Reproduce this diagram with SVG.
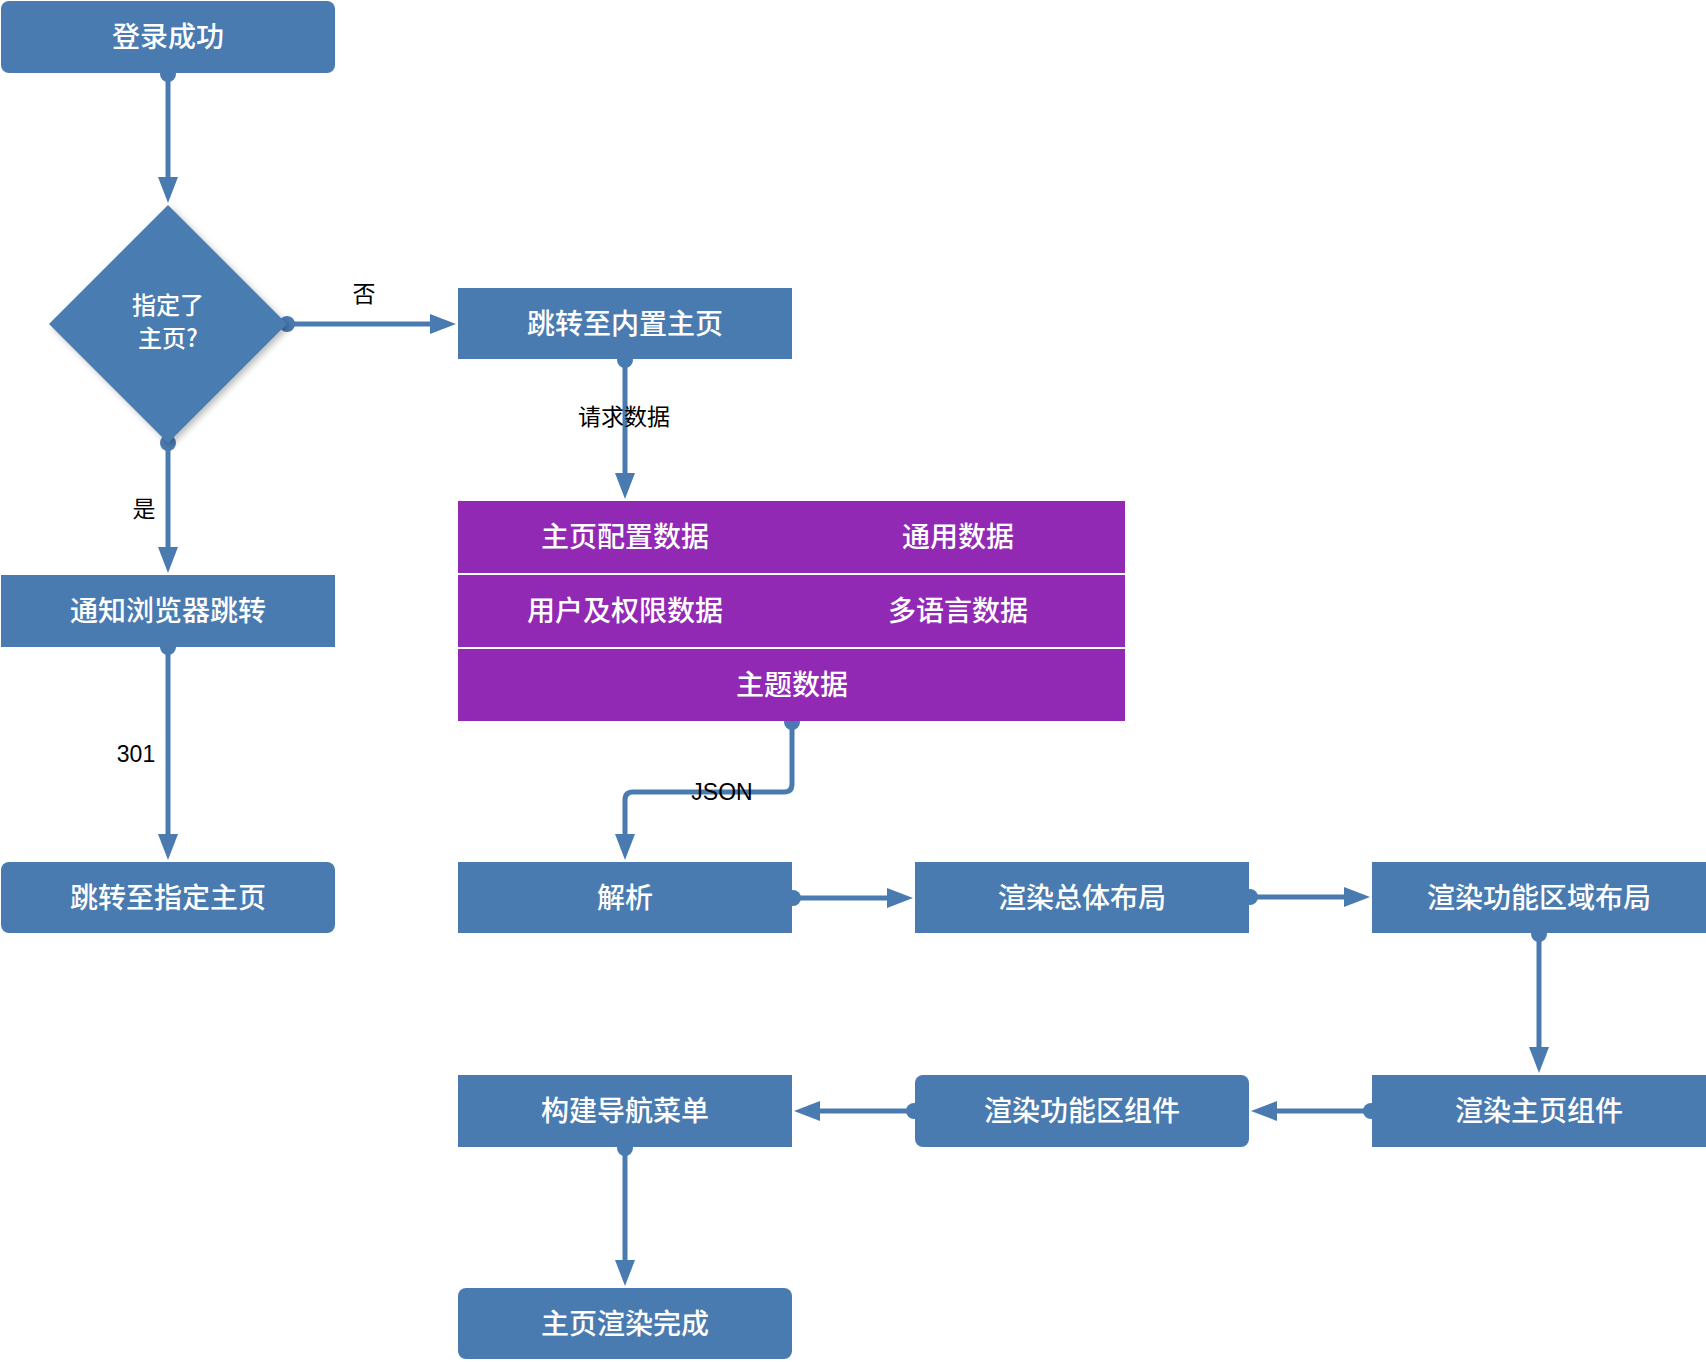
<svg xmlns="http://www.w3.org/2000/svg" width="1706" height="1362" viewBox="0 0 1706 1362">
<style>
.box{fill:#4a7bb0}
.data{fill:#9229b5}
.t{font-family:"Noto Sans CJK SC","Liberation Sans",sans-serif;font-size:28px;font-weight:500;fill:#ffffff;text-anchor:middle;dominant-baseline:central}
.dt{font-family:"Noto Sans CJK SC","Liberation Sans",sans-serif;font-size:24px;font-weight:500;fill:#ffffff;text-anchor:middle;dominant-baseline:central}
.lbl{font-family:"Liberation Sans","Noto Sans CJK SC",sans-serif;font-size:23px;fill:#000000;text-anchor:middle;dominant-baseline:central}
.c{fill:none;stroke:#4a7bb0;stroke-width:5;marker-end:url(#arr)}
.dot{fill:#4a7bb0}
</style>
<defs>
<marker id="arr" markerUnits="userSpaceOnUse" markerWidth="28" markerHeight="22" refX="0" refY="10" orient="auto">
<path d="M0,0 L26,10 L0,20 z" fill="#4a7bb0"/>
</marker>
<filter id="sh" x="-20%" y="-20%" width="140%" height="140%">
<feDropShadow dx="3" dy="3" stdDeviation="3" flood-color="#000000" flood-opacity="0.25"/>
</filter>
</defs>

<g id="connectors">
<path class="c" d="M168,73 V177"/>
<path class="c" d="M287,324 H430"/>
<path class="c" d="M168,443 V547"/>
<path class="c" d="M168,647 V834"/>
<path class="c" d="M625,359 V473"/>
<path class="c" d="M792,721 V784 Q792,792 784,792 H633 Q625,792 625,800 V834"/>
<path class="c" d="M792,898 H887"/>
<path class="c" d="M1249,897 H1344"/>
<path class="c" d="M1539,933 V1047"/>
<path class="c" d="M1372,1111 H1277"/>
<path class="c" d="M915,1111 H820"/>
<path class="c" d="M625,1147 V1260"/>
<circle class="dot" cx="168" cy="74" r="8"/>
<circle class="dot" cx="287" cy="324" r="8"/>
<circle class="dot" cx="168" cy="443" r="8"/>
<circle class="dot" cx="168" cy="647" r="8"/>
<circle class="dot" cx="625" cy="360" r="8"/>
<circle class="dot" cx="792" cy="722" r="8"/>
<circle class="dot" cx="793" cy="898" r="8"/>
<circle class="dot" cx="1250" cy="897" r="8"/>
<circle class="dot" cx="1539" cy="934" r="8"/>
<circle class="dot" cx="1371" cy="1111" r="8"/>
<circle class="dot" cx="914" cy="1111" r="8"/>
<circle class="dot" cx="625" cy="1148" r="8"/>
<text class="lbl" x="364" y="294">否</text>
<text class="lbl" x="624" y="417">请求数据</text>
<text class="lbl" x="144" y="509">是</text>
<text class="lbl" x="136" y="754">301</text>
<text class="lbl" x="722" y="792">JSON</text>
</g>

<g id="n-login">
<rect class="box" x="1" y="1" width="334" height="72" rx="8"/>
<text class="t" x="168" y="35">登录成功</text>
</g>
<g id="n-decision">
<polygon class="box" filter="url(#sh)" points="168,205 287,324 168,443 49,324"/>
<text class="dt" x="168" y="303">指定了</text>
<text class="dt" x="168" y="336">主页?</text>
</g>
<g id="n-builtin">
<rect class="box" x="458" y="288" width="334" height="71"/>
<text class="t" x="625" y="322">跳转至内置主页</text>
</g>
<g id="n-notify">
<rect class="box" x="1" y="575" width="334" height="72"/>
<text class="t" x="168" y="609">通知浏览器跳转</text>
</g>
<g id="n-goto">
<rect class="box" x="1" y="862" width="334" height="71" rx="8"/>
<text class="t" x="168" y="896">跳转至指定主页</text>
</g>
<g id="n-data">
<rect class="data" x="458" y="501" width="667" height="72"/>
<rect class="data" x="458" y="575" width="667" height="72"/>
<rect class="data" x="458" y="649" width="667" height="72"/>
<text class="t" x="625" y="535">主页配置数据</text>
<text class="t" x="958" y="535">通用数据</text>
<text class="t" x="625" y="609">用户及权限数据</text>
<text class="t" x="958" y="609">多语言数据</text>
<text class="t" x="792" y="683">主题数据</text>
</g>
<g id="n-parse">
<rect class="box" x="458" y="862" width="334" height="71"/>
<text class="t" x="625" y="896">解析</text>
</g>
<g id="n-layout">
<rect class="box" x="915" y="862" width="334" height="71"/>
<text class="t" x="1082" y="896">渲染总体布局</text>
</g>
<g id="n-arealayout">
<rect class="box" x="1372" y="862" width="334" height="71"/>
<text class="t" x="1539" y="896">渲染功能区域布局</text>
</g>
<g id="n-homecomp">
<rect class="box" x="1372" y="1075" width="334" height="72"/>
<text class="t" x="1539" y="1109">渲染主页组件</text>
</g>
<g id="n-areacomp">
<rect class="box" x="915" y="1075" width="334" height="72" rx="8"/>
<text class="t" x="1082" y="1109">渲染功能区组件</text>
</g>
<g id="n-nav">
<rect class="box" x="458" y="1075" width="334" height="72"/>
<text class="t" x="625" y="1109">构建导航菜单</text>
</g>
<g id="n-done">
<rect class="box" x="458" y="1288" width="334" height="71" rx="8"/>
<text class="t" x="625" y="1322">主页渲染完成</text>
</g>
</svg>
